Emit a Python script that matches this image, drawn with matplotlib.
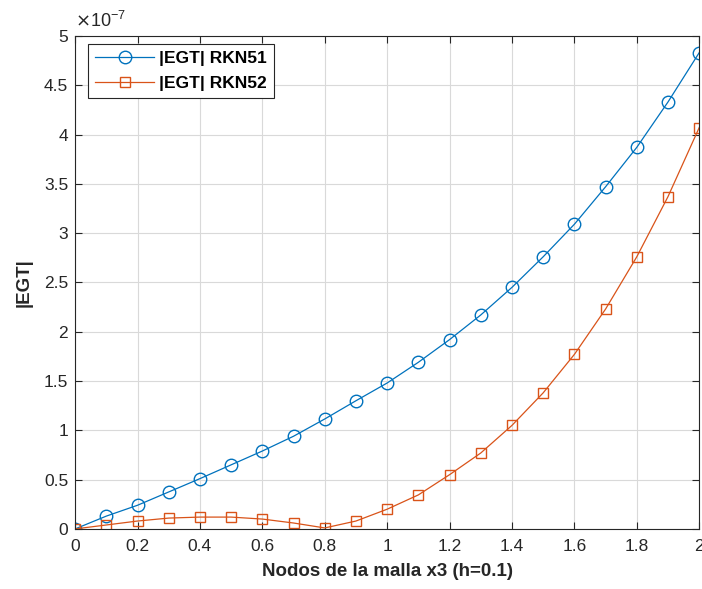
import numpy as np
import matplotlib.pyplot as plt
from matplotlib.ticker import FuncFormatter, MultipleLocator

plt.rcParams['font.family'] = ['Liberation Sans', 'DejaVu Sans']

# nodos de la malla (h=0.1)
x = [0.0, 0.1, 0.2, 0.3, 0.4, 0.5, 0.6, 0.7, 0.8, 0.9, 1.0,
     1.1, 1.2, 1.3, 1.4, 1.5, 1.6, 1.7, 1.8, 1.9, 2.0]
# |EGT| en unidades de 1e-7
egt_rkn51 = [0.0, 0.13, 0.24, 0.375, 0.51, 0.65, 0.79, 0.94, 1.115, 1.30, 1.48,
             1.69, 1.92, 2.17, 2.45, 2.76, 3.09, 3.47, 3.87, 4.33, 4.83]
egt_rkn52 = [0.0, 0.04, 0.08, 0.11, 0.12, 0.12, 0.10, 0.06, 0.01, 0.08, 0.20,
             0.345, 0.55, 0.77, 1.05, 1.38, 1.77, 2.23, 2.76, 3.37, 4.07]
scale = 1e-7

y1 = np.array(egt_rkn51) * scale
y2 = np.array(egt_rkn52) * scale

fig = plt.figure(figsize=(7.02, 5.89), dpi=100)
ax = fig.add_axes([0.107, 0.102, 0.889, 0.837])

ax.plot(x, y1, '-o', color='#0072BD', lw=0.9, ms=9, mfc='none', mew=1.0,
        label='|EGT| RKN51')
ax.plot(x, y2, '-s', color='#D95319', lw=0.9, ms=7.5, mfc='none', mew=1.0,
        label='|EGT| RKN52')

ax.set_xlim(0, 2)
ax.set_ylim(0, 5e-7)
ax.xaxis.set_major_locator(MultipleLocator(0.2))
ax.yaxis.set_major_locator(MultipleLocator(0.5e-7))
ax.xaxis.set_major_formatter(FuncFormatter(lambda v, p: f"{v:g}"))
ax.yaxis.set_major_formatter(FuncFormatter(lambda v, p: f"{round(v / scale, 3):g}"))

ax.grid(True, color='#d9d9d9', lw=0.8)
ax.set_axisbelow(True)
ax.tick_params(direction='in', top=True, right=True, labelsize=12.5,
               colors='#262626', length=5)
ax.tick_params(axis='x', pad=7)
ax.tick_params(axis='y', pad=5)
for s in ax.spines.values():
    s.set_color('#262626')
    s.set_linewidth(0.8)

ax.set_xlabel('Nodos de la malla x3 (h=0.1)', fontsize=13.5, fontweight='bold',
              color='#262626', labelpad=7)
ax.set_ylabel('|EGT|', fontsize=13.5, fontweight='bold', color='#262626',
              labelpad=8)
ax.text(0.0, 1.01, r'$\times\mathregular{10^{-7}}$', transform=ax.transAxes,
        fontsize=13, color='#262626', va='bottom', ha='left')

leg = ax.legend(loc='upper left', prop={'weight': 'bold', 'size': 12.5},
                fancybox=False, edgecolor='#262626', framealpha=1,
                borderpad=0.4, handlelength=3.4, labelspacing=0.55,
                handletextpad=0.3, borderaxespad=0,
                bbox_to_anchor=(0.021, 0.984))
leg.get_frame().set_linewidth(0.8)

fig.savefig('out.png', dpi=100)
